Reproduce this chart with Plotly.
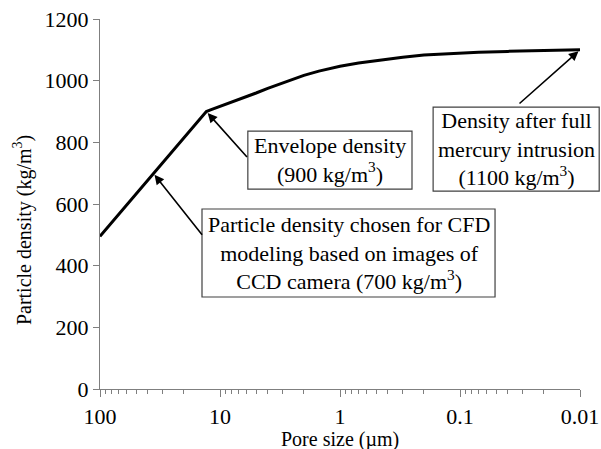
import math
import plotly.graph_objects as go

# Pore size (µm) and cumulative particle density (kg/m³)
pore_size = [100, 80, 60, 50, 40, 36, 25, 20, 16, 13, 12, 10, 8, 6, 5, 4, 3, 2,
             1.5, 1, 0.7, 0.5, 0.3, 0.2, 0.12, 0.07, 0.04, 0.02, 0.01]
density = [495, 539, 596, 633, 677, 700, 770, 814, 859, 900, 905, 916, 930, 948,
           960, 975, 992, 1017, 1031, 1047, 1057, 1065, 1076, 1083, 1088, 1092,
           1095, 1098, 1100]

x_ticks = [100, 10, 1, 0.1, 0.01]
x_tick_text = ["100", "10", "1", "0.1", "0.01"]

# Annotated points: (pore size, density) pairs taken from the series
cfd_pt = (pore_size[5], density[5])
env_pt = (pore_size[9], density[9])
full_pt = (pore_size[-1], density[-1])

FONT = "Liberation Serif"
AXIS_COLOR = "#7f7f7f"

fig = go.Figure()
fig.add_trace(go.Scatter(
    x=pore_size, y=density, mode="lines",
    line=dict(color="black", width=3),
    showlegend=False, hoverinfo="skip"))

fig.update_xaxes(
    type="log", range=[2, -2], autorange=False, automargin=False,
    tickvals=x_ticks, ticktext=x_tick_text,
    ticks="outside", ticklen=7, tickwidth=1.3, tickcolor=AXIS_COLOR,
    minor=dict(ticks="outside", ticklen=4, tickwidth=1, tickcolor=AXIS_COLOR, dtick="D1"),
    showline=True, linecolor=AXIS_COLOR, linewidth=1.3,
    showgrid=False, zeroline=False,
    tickfont=dict(size=22, family=FONT, color="black"))

fig.update_yaxes(
    range=[0, 1200], autorange=False, automargin=False, dtick=200,
    ticks="outside", ticklen=6, tickwidth=1.3, tickcolor=AXIS_COLOR,
    showline=True, linecolor=AXIS_COLOR, linewidth=1.3,
    showgrid=False, zeroline=False,
    tickfont=dict(size=22, family=FONT, color="black"))

title_font = dict(size=20, family=FONT, color="black")

# axis titles
fig.add_annotation(
    text="Pore size (µm)", xref="paper", yref="paper", x=0.5, y=-0.137,
    xanchor="center", yanchor="middle", showarrow=False, font=title_font)
fig.add_annotation(
    text="Particle density (kg/m<sup>3</sup>)", textangle=-90,
    xref="paper", yref="paper", x=-0.16, y=0.43,
    xanchor="center", yanchor="middle", showarrow=False, font=title_font)

box_font = dict(size=22, family=FONT, color="black")


def text_box(text, x0, x1, y0, y1):
    fig.add_shape(
        type="rect", xref="paper", yref="paper", x0=x0, x1=x1, y0=y0, y1=y1,
        line=dict(color="#404040", width=1.2), fillcolor="white", layer="above")
    fig.add_annotation(
        text=text, xref="paper", yref="paper", x=(x0 + x1) / 2, y=(y0 + y1) / 2,
        xanchor="center", yanchor="middle", showarrow=False,
        align="center", font=box_font)


def arrow(pt, dx, dy):
    fig.add_annotation(
        x=math.log10(pt[0]), y=pt[1], xref="x", yref="y",
        text="", showarrow=True, ax=dx, ay=dy,
        arrowhead=2, arrowsize=1.2, arrowwidth=1.6, arrowcolor="black",
        standoff=2)


text_box("Envelope density<br>(900 kg/m<sup>3</sup>)", 0.308, 0.650, 0.540, 0.697)
text_box("Density after full<br>mercury intrusion<br>(1100 kg/m<sup>3</sup>)",
         0.694, 1.040, 0.535, 0.762)
text_box("Particle density chosen for CFD<br>modeling based on images of<br>CCD camera (700 kg/m<sup>3</sup>)",
         0.2125, 0.823, 0.2486, 0.4865)

# arrows from the boxes to the curve
arrow(env_pt, 42, 47)
arrow(full_pt, -62, 55)
arrow(cfd_pt, 50, 63)

fig.update_layout(
    width=601, height=449,
    margin=dict(l=100, r=21, t=19, b=60),
    paper_bgcolor="white", plot_bgcolor="white",
    font=dict(family=FONT, color="black"))

fig.write_html("out.html")
